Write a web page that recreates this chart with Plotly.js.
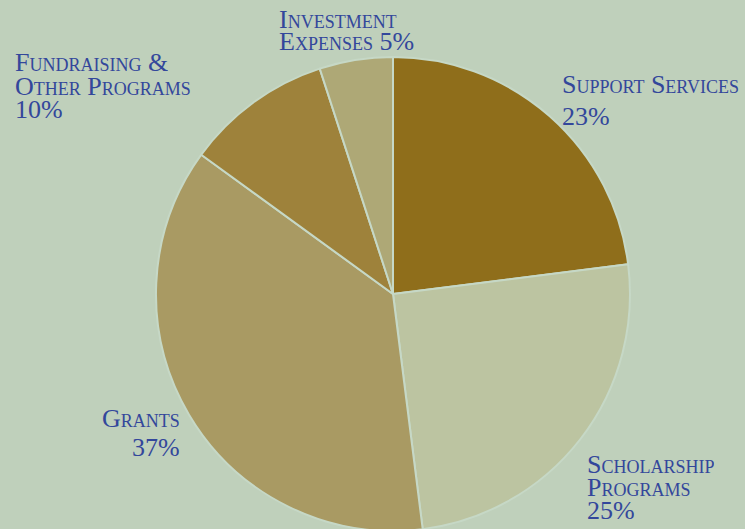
<!DOCTYPE html>
<html>
<head>
<meta charset="utf-8">
<script src="https://cdn.plot.ly/plotly-3.0.1.min.js"></script>
<style>
html,body{margin:0;padding:0;overflow:hidden;background:#bfd0bb;}
#chart{width:745px;height:560px;}
</style>
</head>
<body>
<div id="chart"></div>
<script>
const categories = ["Support Services", "Scholarship Programs", "Grants", "Fundraising & Other Programs", "Investment Expenses"];
const values = [23, 25, 37, 10, 5];
const sliceColors = ["#8f6e1b", "#bcc4a1", "#a99a63", "#9e823b", "#aea876"];
// label lines as printed next to each slice
const labelLines = [
  ["Support Services", "23%"],
  ["Scholarship", "Programs", "25%"],
  ["Grants", "37%"],
  ["Fundraising &", "Other Programs", "10%"],
  ["Investment", "Expenses 5%"]
];

const W = 745, H = 560;
const textColor = "#33479b";
const font = {family: "Liberation Serif, serif", size: 26, color: textColor, variant: "small-caps"};

// label block placement: [x px, first line y px, line spacing, anchor]
const place = [
  [561, 84, 32, "left"],
  [586, 464, 23, "left"],
  [181, 418, 29, "right"],
  [14, 62, 24, "left"],
  [278, 20, 22, "left"]
];

const annotations = [];
labelLines.forEach((lines, i) => {
  const [px, py, dy, anchor] = place[i];
  lines.forEach((t, j) => {
    annotations.push({
      text: t, showarrow: false, xref: "paper", yref: "paper",
      x: px / W, y: 1 - (py + j * dy) / H,
      xanchor: anchor, yanchor: "middle", valign: "middle",
      height: 21, borderpad: 0, font: font
    });
  });
});

const trace = {
  type: "pie",
  labels: categories,
  values: values,
  sort: false,
  direction: "clockwise",
  rotation: 0,
  textinfo: "none",
  hoverinfo: "label+percent",
  marker: {colors: sliceColors, line: {color: "#c6d8c6", width: 2}},
  domain: {x: [156 / W, 630 / W], y: [1 - 531 / H, 1 - 57 / H]},
  showlegend: false
};

const layout = {
  width: W, height: H,
  margin: {l: 0, r: 0, t: 0, b: 0},
  paper_bgcolor: "#bfd0bb",
  plot_bgcolor: "#bfd0bb",
  showlegend: false,
  annotations: annotations
};

Plotly.newPlot("chart", [trace], layout, {displayModeBar: false, staticPlot: true});
</script>
</body>
</html>
